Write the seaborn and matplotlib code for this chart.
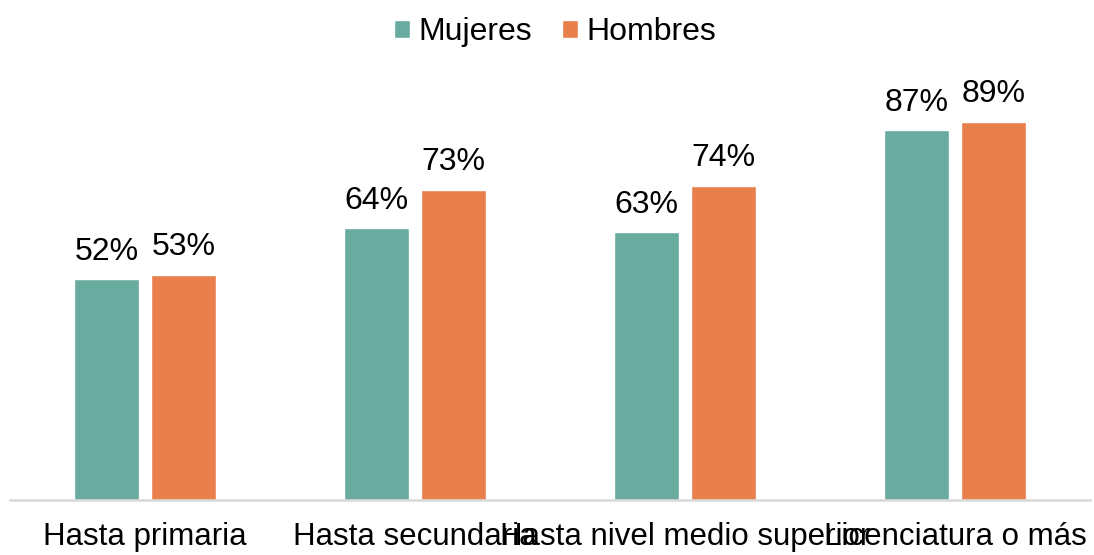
import pandas as pd
from matplotlib import pyplot as plt
import seaborn as sns

categorias = ["Hasta primaria", "Hasta secundaria", "Hasta nivel medio superior", "Licenciatura o más"]
mujeres = [52, 64, 63, 87]
hombres = [53, 73, 74, 89]
series = ["Mujeres", "Hombres"]
colores = ["#6AABA0", "#E9804C"]

df = pd.DataFrame({
    "categoria": categorias * 2,
    "valor": mujeres + hombres,
    "sexo": [series[0]] * 4 + [series[1]] * 4,
})

sns.set_style("white")
plt.rcParams['font.family'] = ['Liberation Sans', 'DejaVu Sans']

fig = plt.figure(figsize=(10.94, 5.55), dpi=100)
ax = fig.add_axes([10 / 1094, 1 - 500 / 555, 1080 / 1094, 425 / 555])

sns.barplot(data=df, x="categoria", y="valor", hue="sexo", palette=colores,
            width=0.572, gap=0.15, errorbar=None, ax=ax, saturation=1)

for cont in ax.containers:
    ax.bar_label(cont, labels=[f"{v:.0f}%" for v in cont.datavalues],
                 padding=9, fontsize=23, color="#000000")

ax.set_ylim(0, 100)
ax.set_xlim(-0.5, 3.5)
ax.set_xlabel("")
ax.set_ylabel("")
ax.set_yticks([])
for s in ["top", "right", "left"]:
    ax.spines[s].set_visible(False)
ax.spines["bottom"].set_color("#D9D9D9")
ax.spines["bottom"].set_linewidth(1.8)
# las etiquetas se pisan igual que en el original
ax.tick_params(axis="x", length=0, pad=16, labelsize=22.5, labelcolor="#000000")

leg = ax.legend(title=None, loc="center", bbox_to_anchor=(555 / 1094, 1 - 32 / 555),
                bbox_transform=fig.transFigure, ncol=2, frameon=False, fontsize=23,
                handlelength=0.5, handleheight=0.5, handletextpad=0.25, columnspacing=0.95)
for t in leg.get_texts():
    t.set_color("#000000")

fig.savefig("out.png", dpi=100)
